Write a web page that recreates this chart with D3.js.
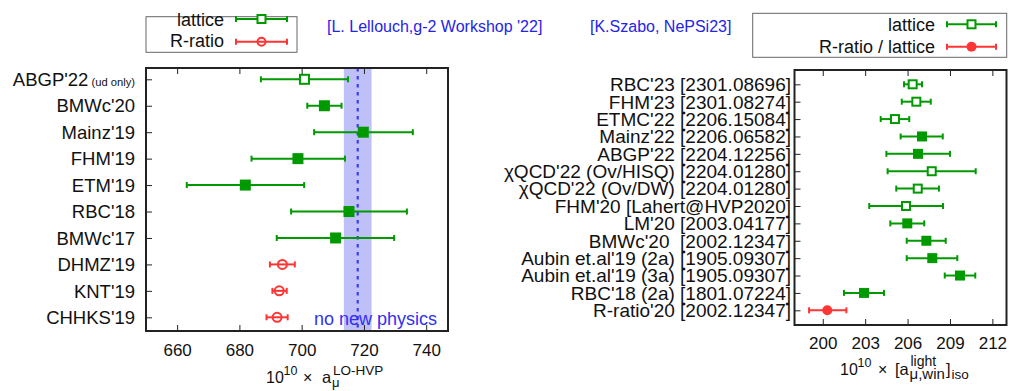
<!DOCTYPE html>
<html><head><meta charset="utf-8">
<script src="https://cdn.jsdelivr.net/npm/d3@7"></script>
<style>
body{margin:0;background:#fff}
svg{display:block}
text{font-family:"Liberation Sans",Arial,Helvetica,sans-serif;white-space:pre}
</style>
</head><body>
<svg id="c" width="1012" height="391"></svg>
<script>
// ---------------- DATA ----------------
// Left panel: 10^10 x a_mu^{LO-HVP}
const leftLabels = ["ABGP'22","BMWc'20","Mainz'19","FHM'19","ETM'19","RBC'18","BMWc'17","DHMZ'19","KNT'19","CHHKS'19"];
const leftValues = [700.9, 707.3, 719.8, 698.8, 681.9, 715.2, 710.9, 693.8, 692.8, 692.1];
const leftErrLo  = [14.0, 5.5, 15.8, 14.9, 18.8, 18.6, 18.9, 4.0, 2.2, 3.4];
const leftErrHi  = [14.0, 5.5, 15.9, 15.1, 18.9, 18.6, 18.8, 4.0, 2.4, 3.4];
const leftKind   = ["latticeOpen","lattice","lattice","lattice","lattice","lattice","lattice","rratio","rratio","rratio"];
const leftTicks  = [660, 680, 700, 720, 740];
const noNewPhysics = {center: 718.0, halfWidth: 4.45};

// Right panel: 10^10 x [a_mu,win^light]_iso
const rightLabels = ["RBC'23 [2301.08696]","FHM'23 [2301.08274]","ETMC'22 [2206.15084]","Mainz'22 [2206.06582]",
  "ABGP'22 [2204.12256]","\u03c7QCD'22 (Ov/HISQ) [2204.01280]","\u03c7QCD'22 (Ov/DW) [2204.01280]",
  "FHM'20 [Lahert@HVP2020]","LM'20 [2003.04177]","BMWc'20  [2002.12347]","Aubin et.al'19 (2a) [1905.09307]",
  "Aubin et.al'19 (3a) [1905.09307]","RBC'18 (2a) [1801.07224]","R-ratio'20 [2002.12347]"];
const rightValues = [206.36, 206.62, 205.11, 207.02, 206.74, 207.71, 206.72, 205.89, 205.98, 207.33, 207.75, 209.71, 202.92, 200.32];
const rightErrLo  = [0.61, 1.03, 1.01, 1.51, 2.24, 3.12, 1.52, 2.60, 1.20, 1.39, 1.81, 1.08, 1.42, 1.29];
const rightErrHi  = [0.66, 1.02, 1.01, 1.47, 2.26, 3.11, 1.50, 2.62, 1.20, 1.37, 1.77, 1.08, 1.41, 1.35];
const rightKind   = ["latticeOpen","latticeOpen","latticeOpen","lattice","lattice","latticeOpen","latticeOpen",
  "latticeOpen","lattice","lattice","lattice","lattice","lattice","rratioFilled"];
const rightTicks  = [200, 203, 206, 209, 212];

// ---------------- STYLE ----------------
const GREEN = "#009a00", RED = "#ff3535", BLUE = "#2424e8", FRAME = "#222";
const svg = d3.select("#c");

function drawMarker(g, x, y, kind, size) {
  if (kind === "lattice") {
    g.append("rect").attr("x", x - size/2).attr("y", y - size/2).attr("width", size).attr("height", size).attr("fill", GREEN);
  } else if (kind === "latticeOpen") {
    const s = size - 2;
    g.append("rect").attr("x", x - s/2).attr("y", y - s/2).attr("width", s).attr("height", s)
      .attr("fill", "#fff").attr("stroke", GREEN).attr("stroke-width", 2);
  } else if (kind === "rratio") {
    g.append("circle").attr("cx", x).attr("cy", y).attr("r", size/2 - 1).attr("fill", "none").attr("stroke", RED).attr("stroke-width", 2);
  } else if (kind === "rratioFilled") {
    g.append("circle").attr("cx", x).attr("cy", y).attr("r", size/2).attr("fill", RED);
  }
}
function colorOf(kind) { return kind.startsWith("rratio") ? RED : GREEN; }

function errBar(g, x1, x2, y, color, cap, lw) {
  g.append("line").attr("x1", x1).attr("x2", x2).attr("y1", y).attr("y2", y).attr("stroke", color).attr("stroke-width", lw);
  [x1, x2].forEach(x => g.append("line").attr("x1", x).attr("x2", x).attr("y1", y - cap).attr("y2", y + cap)
    .attr("stroke", color).attr("stroke-width", lw));
}

// one text element, segments positioned as tspans (gnuplot-like enhanced text)
function mathText(g, x, y, segs) {
  const t = g.append("text").attr("fill", "#111");
  segs.forEach(s => t.append("tspan").attr("x", x + s.x).attr("y", y + (s.dy || 0))
    .attr("font-size", s.fs).text(s.t));
}

function panel(opt) {
  const g = svg.append("g");
  const x = d3.scaleLinear().domain(opt.xDomain).range([opt.left, opt.right]);
  const y = d3.scalePoint().domain(opt.labels).range(opt.yRange);
  if (opt.band) {
    g.append("rect").attr("x", x(opt.band.center - opt.band.halfWidth)).attr("y", opt.top)
      .attr("width", x(opt.band.center + opt.band.halfWidth) - x(opt.band.center - opt.band.halfWidth))
      .attr("height", opt.bottom - opt.top).attr("fill", "#c0c0f8");
    g.append("line").attr("x1", x(opt.band.center)).attr("x2", x(opt.band.center))
      .attr("y1", opt.top).attr("y2", opt.bottom).attr("stroke", "#3c3cf0").attr("stroke-width", 2.2)
      .attr("stroke-dasharray", "3.5,4.5");
  }
  const axB = d3.axisBottom(x).tickValues(opt.ticks).tickSize(-6).tickPadding(0).tickFormat(d3.format("d"));
  const gB = g.append("g").attr("transform", `translate(0,${opt.bottom})`).call(axB);
  gB.select(".domain").remove();
  gB.selectAll(".tick line").attr("stroke", FRAME).attr("stroke-width", 1);
  gB.selectAll(".tick text").attr("y", opt.tickLabelY - opt.bottom).attr("dy", 0)
    .attr("font-size", 17).attr("font-family", "Liberation Sans, Arial, sans-serif").attr("fill", "#111");
  const axT = d3.axisTop(x).tickValues(opt.ticks).tickSize(-6).tickFormat("");
  const gT = g.append("g").attr("transform", `translate(0,${opt.top})`).call(axT);
  gT.select(".domain").remove();
  gT.selectAll(".tick line").attr("stroke", FRAME).attr("stroke-width", 1);
  const axL = d3.axisLeft(y).tickSize(-6).tickFormat("");
  const gL = g.append("g").attr("transform", `translate(${opt.left},0)`).call(axL);
  gL.select(".domain").remove();
  gL.selectAll(".tick line").attr("stroke", FRAME).attr("stroke-width", 1);
  opt.labels.forEach((lab, i) => {
    const t = g.append("text").attr("x", opt.labelX).attr("y", y(lab)).attr("dy", "0.36em")
      .attr("text-anchor", "end").attr("font-size", opt.labelSize).attr("fill", "#111").text(lab);
    if (opt.labelSuffix && opt.labelSuffix[i]) {
      t.append("tspan").attr("font-size", 11.2).text(" " + opt.labelSuffix[i]);
    }
  });
  opt.labels.forEach((lab, i) => {
    const yy = y(lab), c = colorOf(opt.kind[i]);
    errBar(g, x(opt.values[i] - opt.lo[i]), x(opt.values[i] + opt.hi[i]), yy, c, opt.cap, opt.lw);
    drawMarker(g, x(opt.values[i]), yy, opt.kind[i], opt.msize);
  });
  g.append("rect").attr("x", opt.left).attr("y", opt.top).attr("width", opt.right - opt.left)
    .attr("height", opt.bottom - opt.top).attr("fill", "none").attr("stroke", FRAME).attr("stroke-width", 2);
  return {g, x, y};
}

// Left panel
const L = panel({
  left: 146, right: 448, top: 68, bottom: 331, xDomain: [650, 747],
  labels: leftLabels, labelSuffix: ["(ud only)"], yRange: [79.3, 317.3],
  values: leftValues, lo: leftErrLo, hi: leftErrHi, kind: leftKind,
  ticks: leftTicks, tickLabelY: 356, labelX: 135, labelSize: 18.5,
  band: noNewPhysics, cap: 3, lw: 2, msize: 11
});
L.g.append("text").attr("x", 314).attr("y", 325).attr("font-size", 18).attr("fill", "#3030f5").text("no new physics");
mathText(svg, 266, 383, [
  {t: "10", fs: 16, x: 0}, {t: "10", fs: 12.5, x: 17.5, dy: -8}, {t: "\u00d7", fs: 16, x: 37},
  {t: "a", fs: 16.5, x: 56}, {t: "\u03bc", fs: 13, x: 66, dy: 4}, {t: "LO-HVP", fs: 13.5, x: 67, dy: -8}
]);

// Right panel
const R = panel({
  left: 794.5, right: 1006.5, top: 70, bottom: 325, xDomain: [198, 213],
  labels: rightLabels, yRange: [84.3, 310.3],
  values: rightValues, lo: rightErrLo, hi: rightErrHi, kind: rightKind,
  ticks: rightTicks, tickLabelY: 349, labelX: 791, labelSize: 19,
  cap: 3, lw: 2, msize: 10
});
mathText(svg, 840, 375, [
  {t: "10", fs: 16, x: 0}, {t: "10", fs: 12.5, x: 17.5, dy: -8}, {t: "\u00d7", fs: 16, x: 38},
  {t: "[a", fs: 16.5, x: 55}, {t: "\u03bc,win", fs: 15, x: 69.5, dy: 4}, {t: "light", fs: 14, x: 70.5, dy: -9},
  {t: "]", fs: 16.5, x: 106}, {t: "iso", fs: 13.5, x: 111.5, dy: 4}
]);

// Legends
function legend(bx, by, bw, bh, rows) {
  const g = svg.append("g");
  g.append("rect").attr("x", bx).attr("y", by).attr("width", bw).attr("height", bh)
    .attr("fill", "#fff").attr("stroke", "#666").attr("stroke-width", 1);
  rows.forEach(r => {
    g.append("text").attr("x", r.tx).attr("y", r.ty).attr("text-anchor", "end").attr("font-size", 18).attr("fill", "#111").text(r.label);
    errBar(g, r.x1, r.x2, r.ly, colorOf(r.kind), 3, 2);
    drawMarker(g, (r.x1 + r.x2) / 2, r.ly, r.kind, 10);
  });
}
legend(146, 16.7, 151, 35.6, [
  {label: "lattice", tx: 224, ty: 26, x1: 236, x2: 287, ly: 19, kind: "latticeOpen"},
  {label: "R-ratio", tx: 224, ty: 47.3, x1: 236, x2: 287, ly: 41.7, kind: "rratio"}
]);
legend(752.7, 13.3, 254, 44, [
  {label: "lattice", tx: 935, ty: 31, x1: 947, x2: 996, ly: 24.3, kind: "latticeOpen"},
  {label: "R-ratio / lattice", tx: 935, ty: 52.5, x1: 947, x2: 996, ly: 46.7, kind: "rratioFilled"}
]);

// Citations
svg.append("text").attr("x", 327).attr("y", 32).attr("font-size", 16).attr("fill", BLUE).text("[L. Lellouch,g-2 Workshop '22]");
svg.append("text").attr("x", 590).attr("y", 32).attr("font-size", 16).attr("fill", BLUE).text("[K.Szabo, NePSi23]");
</script>
</body></html>
